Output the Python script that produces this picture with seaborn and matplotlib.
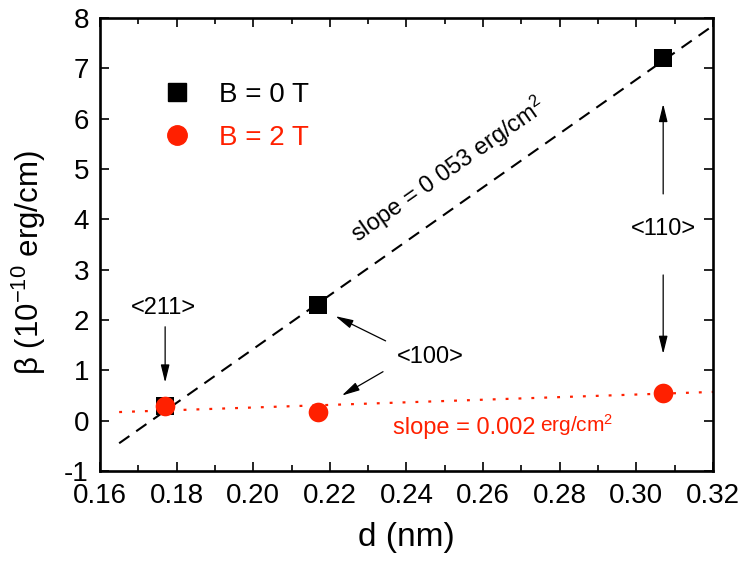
import numpy as np
import pandas as pd
import matplotlib
matplotlib.use("Agg")
import matplotlib.pyplot as plt
from matplotlib.lines import Line2D
from matplotlib.ticker import MultipleLocator
import seaborn as sns

# dados
d_nm = [0.177, 0.217, 0.307]
beta_b0 = [0.30, 2.30, 7.20]
beta_b2 = [0.30, 0.18, 0.55]

# retas de ajuste (extremos)
fit_x = [0.165, 0.320]
fit_b0 = [-0.45, 7.85]
fit_b2 = [0.17, 0.57]

series_labels = ["B = 0 T", "B = 2 T"]
red = "#ff2000"

sns.set_style("ticks")
plt.rcParams["font.family"] = ["Liberation Sans", "DejaVu Sans"]
plt.rcParams["mathtext.fontset"] = "custom"
plt.rcParams["mathtext.rm"] = "Liberation Sans"
plt.rcParams["mathtext.default"] = "regular"
plt.rcParams["axes.unicode_minus"] = False
plt.rcParams["text.color"] = "black"

fig = plt.figure(figsize=(7.43, 5.66), dpi=100)
ax = fig.add_axes([0.1346, 0.168, 0.825, 0.800])

sns.lineplot(x=fit_x, y=fit_b0, ax=ax, color="black", lw=1.5,
             linestyle=(0, (6, 4)), zorder=2)
sns.lineplot(x=fit_x, y=fit_b2, ax=ax, color=red, lw=1.6,
             linestyle=(0, (1.3, 4.5)), zorder=2)

df = pd.DataFrame({"d": d_nm, "b0": beta_b0, "b2": beta_b2})
sns.scatterplot(data=df, x="d", y="b0", ax=ax, marker="s", s=150,
                color="black", linewidth=0, zorder=3)
sns.scatterplot(data=df, x="d", y="b2", ax=ax, marker="o", s=200,
                color=red, linewidth=0, zorder=4)

ax.set_xlim(0.16, 0.32)
ax.set_ylim(-1, 8)
ax.xaxis.set_minor_locator(MultipleLocator(0.01))
ax.yaxis.set_major_locator(MultipleLocator(1))
ax.set_xticks(np.arange(0.16, 0.321, 0.02))
ax.set_xticklabels([f"{v:.2f}" for v in np.arange(0.16, 0.321, 0.02)])
ax.tick_params(which="both", direction="in", top=True, right=True,
               width=1.2, color="black", labelcolor="black")
ax.tick_params(which="major", length=6.5, labelsize=20)
ax.tick_params(which="minor", length=4.3)
ax.tick_params(axis="x", pad=9)
ax.tick_params(axis="y", pad=8)
for s in ax.spines.values():
    s.set_linewidth(1.9)
    s.set_color("black")

ax.set_xlabel("d (nm)", fontsize=24, labelpad=9, color="black")
ax.set_ylabel("β (10$^{-10}$ erg/cm)", fontsize=22.5, color="black")
ax.yaxis.set_label_coords(-0.085, 0.46)

# legenda
handles = [
    Line2D([], [], marker="s", ls="none", color="black", markersize=12.5),
    Line2D([], [], marker="o", ls="none", color=red, markersize=14),
]
ax.legend(handles, series_labels, loc="upper left", bbox_to_anchor=(0.062, 0.914),
          frameon=False, fontsize=20, labelcolor=["black", red],
          handlelength=1.0, handletextpad=1.0, labelspacing=0.6)

# anotações
arr = dict(arrowstyle="-|>,head_width=0.22,head_length=0.9", color="black",
           lw=0.9, mutation_scale=12)
ax.text(0.1765, 2.24, "<211>", fontsize=17, ha="center", va="center")
ax.annotate("", xy=(0.177, 0.70), xytext=(0.177, 1.92), arrowprops=arr)

ax.text(0.2375, 1.27, "<100>", fontsize=17, ha="left", va="center")
ax.annotate("", xy=(0.2208, 2.10), xytext=(0.2352, 1.56), arrowprops=arr)
ax.annotate("", xy=(0.2225, 0.47), xytext=(0.2345, 1.00), arrowprops=arr)

ax.text(0.307, 3.80, "<110>", fontsize=17, ha="center", va="center")
ax.annotate("", xy=(0.307, 6.35), xytext=(0.307, 4.45), arrowprops=arr)
ax.annotate("", xy=(0.307, 1.27), xytext=(0.307, 2.95), arrowprops=arr)

ax.text(0.2509, 4.98, "slope = 0 053 erg/cm$^2$", fontsize=17,
        rotation=35, ha="center", va="center", rotation_mode="anchor")

t = ax.text(0.2365, -0.15, "slope = 0.002", fontsize=17, color=red,
            ha="left", va="center")
ax.annotate("erg/cm$^2$", xy=(1, 0.5), xycoords=t, xytext=(3, 2),
            textcoords="offset points", fontsize=15, color=red,
            ha="left", va="center")

fig.savefig("out.png", dpi=100)
